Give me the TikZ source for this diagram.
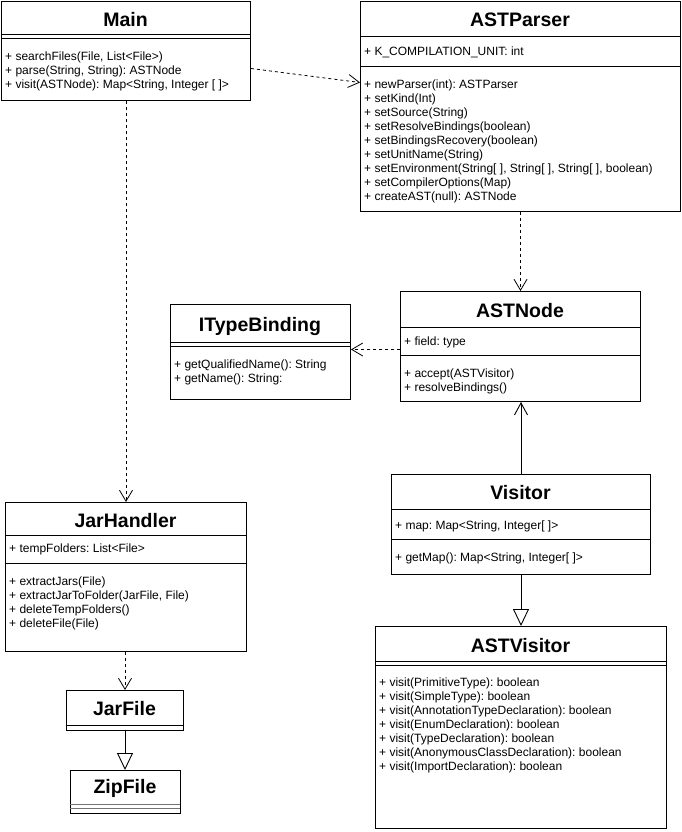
\documentclass[tikz,border=0pt]{standalone}
\usepackage{fontspec}
\setmainfont{Liberation Sans}
\usetikzlibrary{arrows.meta,calc}
\frenchspacing
\begin{document}
\frenchspacing
\begin{tikzpicture}[x=1pt,y=-1pt,
  box/.style={draw=black, line width=1pt, fill=white, inner sep=0pt, anchor=north west},
  sep/.style={draw=black, line width=0.9pt},
  gsep/.style={draw=black!55, line width=1pt},
  ttl/.style={font=\bfseries\fontsize{19.5}{21}\selectfont, inner sep=0pt},
  mem/.style={font=\fontsize{12}{14}\selectfont, anchor=west, inner sep=0pt, yshift=-1.5pt},
  dep/.style={draw=black, line width=0.8pt, dash pattern=on 3pt off 3pt, -{Straight Barb[length=11pt,width=13pt]}},
  assoc/.style={draw=black, line width=0.9pt, -{Straight Barb[length=12pt,width=13pt]}},
  gen/.style={draw=black, line width=0.9pt, -{Triangle[open,length=17pt,width=16pt,fill=white]}}
]
\useasboundingbox (0,0) rectangle (681,832);
\fill[white] (0,0) rectangle (681,832);

% ---------- Main ----------
\node[box, minimum width=249pt, minimum height=99pt] (main) at (1,1) {};
\node[ttl] (mainT) at (125.5,20) {Main};
\draw[sep] (1,34) -- (250,34);
\draw[sep] (1,38) -- (250,38);
\node[mem] (main1) at (5,55.5) {+ searchFiles(File, List<File>)};
\node[mem] (main2) at (5,69.5) {+ parse(String, String): ASTNode};
\node[mem] (main3) at (5,83.5) {+ visit(ASTNode): Map<String, Integer [ ]>};

% ---------- ASTParser ----------
\node[box, minimum width=320pt, minimum height=210pt] (parser) at (360,1) {};
\node[ttl] (parserT) at (520,20) {ASTParser};
\draw[sep] (360,36.5) -- (680,36.5);
\node[mem] (p0) at (364,50.5) {+ K\_COMPILATION\_UNIT: int};
\draw[sep] (360,66) -- (680,66);
\node[mem] (p1) at (364,83.5) {+ newParser(int): ASTParser};
\node[mem] (p2) at (364,97.5) {+ setKind(Int)};
\node[mem] (p3) at (364,111.5) {+ setSource(String)};
\node[mem] (p4) at (364,125.5) {+ setResolveBindings(boolean)};
\node[mem] (p5) at (364,139.5) {+ setBindingsRecovery(boolean)};
\node[mem] (p6) at (364,153.5) {+ setUnitName(String)};
\node[mem] (p7) at (364,167.5) {+ setEnvironment(String[ ], String[ ], String[ ], boolean)};
\node[mem] (p8) at (364,181.5) {+ setCompilerOptions(Map)};
\node[mem] (p9) at (364,195.5) {+ createAST(null): ASTNode};

% ---------- ITypeBinding ----------
\node[box, minimum width=180pt, minimum height=95pt] (itb) at (170,304) {};
\node[ttl] (itbT) at (260,326) {ITypeBinding};
\draw[sep] (170,342) -- (350,342);
\draw[sep] (170,346) -- (350,346);
\node[mem] (itb1) at (174,363.5) {+ getQualifiedName(): String};
\node[mem] (itb2) at (174,377.5) {+ getName(): String:};

% ---------- ASTNode ----------
\node[box, minimum width=240pt, minimum height=110pt] (astnode) at (400,291) {};
\node[ttl] (astnodeT) at (520,311) {ASTNode};
\draw[sep] (400,327) -- (640,327);
\node[mem] (an0) at (404,340.5) {+ field: type};
\draw[sep] (400,355.5) -- (640,355.5);
\node[mem] (an1) at (404,372.5) {+ accept(ASTVisitor)};
\node[mem] (an2) at (404,386.5) {+ resolveBindings()};

% ---------- JarHandler ----------
\node[box, minimum width=241pt, minimum height=149pt] (jar) at (5,502) {};
\node[ttl] (jarT) at (125.5,521) {JarHandler};
\draw[sep] (5,535) -- (246,535);
\node[mem] (j0) at (9,547.5) {+ tempFolders: List<File>};
\draw[sep] (5,563) -- (246,563);
\node[mem] (j1) at (9,580.5) {+ extractJars(File)};
\node[mem] (j2) at (9,594.5) {+ extractJarToFolder(JarFile, File)};
\node[mem] (j3) at (9,608.5) {+ deleteTempFolders()};
\node[mem] (j4) at (9,622.5) {+ deleteFile(File)};

% ---------- JarFile ----------
\node[box, minimum width=117pt, minimum height=40pt] (jarfile) at (66,690) {};
\node[ttl] (jarfileT) at (124.5,708.5) {JarFile};
\draw[sep] (66,725.5) -- (183,725.5);

% ---------- ZipFile ----------
\node[box, minimum width=110pt, minimum height=43pt] (zipfile) at (70,770) {};
\node[ttl] (zipfileT) at (125,788) {ZipFile};
\draw[gsep] (70,804.5) -- (180,804.5);
\draw[gsep] (70,808.5) -- (180,808.5);

% ---------- Visitor ----------
\node[box, minimum width=259pt, minimum height=100pt] (visitor) at (391,474) {};
\node[ttl] (visitorT) at (520.5,493) {Visitor};
\draw[sep] (391,509) -- (650,509);
\node[mem] (v0) at (395,524.5) {+ map: Map<String, Integer[ ]>};
\draw[sep] (391,539.5) -- (650,539.5);
\node[mem] (v1) at (395,557) {+ getMap(): Map<String, Integer[ ]>};

% ---------- ASTVisitor ----------
\node[box, minimum width=291pt, minimum height=202pt] (astvisitor) at (375,626) {};
\node[ttl] (astvisitorT) at (520.5,645.5) {ASTVisitor};
\draw[sep] (375,661) -- (666,661);
\draw[sep] (375,665) -- (666,665);
\node[mem] (av1) at (379,681.5) {+ visit(PrimitiveType): boolean};
\node[mem] (av2) at (379,695.5) {+ visit(SimpleType): boolean};
\node[mem] (av3) at (379,709.5) {+ visit(AnnotationTypeDeclaration): boolean};
\node[mem] (av4) at (379,723.5) {+ visit(EnumDeclaration): boolean};
\node[mem] (av5) at (379,737.5) {+ visit(TypeDeclaration): boolean};
\node[mem] (av6) at (379,751.5) {+ visit(AnonymousClassDeclaration): boolean};
\node[mem] (av7) at (379,765.5) {+ visit(ImportDeclaration): boolean};

% ---------- Connectors ----------
\draw[dep] ([yshift=-17.5pt]main.east) -- ([yshift=24pt]parser.west);
\draw[dep] (parser.south) -- (parser.south |- astnode.north);
\coordinate (a1) at ([yshift=-3pt]astnode.west);
\draw[dep] (a1) -- (a1 -| itb.east);
\draw[dep] (main.south) -- (main.south |- jar.north);
\draw[dep] (jarfile.north |- jar.south) -- (jarfile.north);
\draw[gen] (jarfile.south) -- (jarfile.south |- zipfile.north);
\draw[assoc] (visitor.north) -- (visitor.north |- astnode.south);
\draw[gen] (visitor.south) -- (visitor.south |- astvisitor.north);
\end{tikzpicture}
\end{document}
